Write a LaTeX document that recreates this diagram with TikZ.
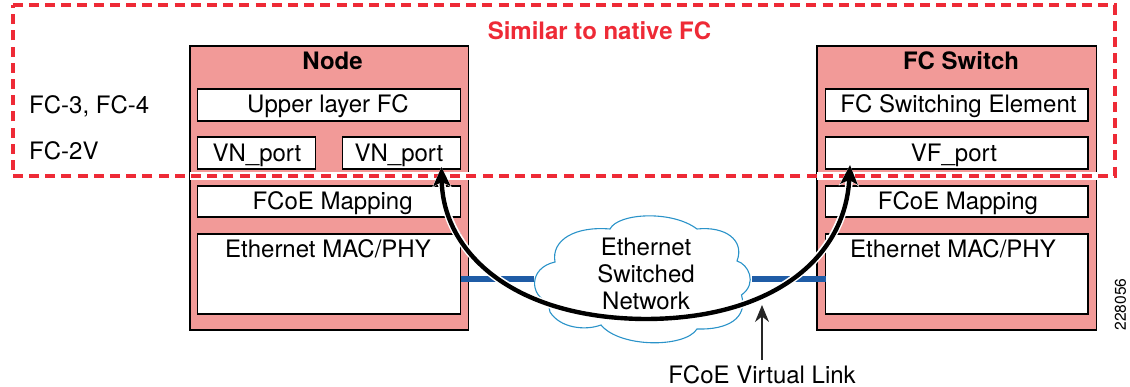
\documentclass[tikz,border=0pt]{standalone}
\usepackage{fontspec}
\setmainfont{TeX Gyre Heros}
\usetikzlibrary{arrows.meta}
\definecolor{panelpink}{HTML}{F29A98}
\definecolor{dashred}{HTML}{EE2A36}
\definecolor{linkblue}{HTML}{1F5CA6}
\definecolor{cloudblue}{HTML}{2A93C9}
\tikzset{
  panel/.style={draw=black,line width=1.2pt,fill=panelpink,inner sep=0pt,outer sep=0pt},
  slot/.style={draw=black,line width=1.2pt,fill=white,inner sep=0pt,outer sep=0pt},
  txt/.style={anchor=base,inner sep=0pt,font=\fontsize{24}{27}\selectfont},
  boldtxt/.style={txt,font=\fontsize{24}{27}\selectfont\bfseries},
  vlink/.style={line width=5.5pt,draw=linkblue},
  halo/.style={line width=7.5pt,draw=white},
  heavy/.style={line width=4.4pt,draw=black},
}
\begin{document}
\begin{tikzpicture}[x=1pt,y=-1pt]
\useasboundingbox (0,0) rectangle (1130,387);
% panels
\node[panel,minimum width=278.5pt,minimum height=284pt] (nodeP) at (329.25,188) {};
\node[panel,minimum width=279.5pt,minimum height=284pt] (switchP) at (956.75,188) {};
% node slots
\node[slot,minimum width=263pt,minimum height=32pt] (upperB) at (329,105) {};
\node[slot,minimum width=118.2pt,minimum height=32pt] (vn1B) at (256.6,153) {};
\node[slot,minimum width=118.2pt,minimum height=32pt] (vn2B) at (401.4,153) {};
\node[slot,minimum width=263pt,minimum height=31pt] (mapLB) at (329,201.5) {};
\node[slot,minimum width=263pt,minimum height=80pt] (ethLB) at (329,274) {};
% switch slots
\node[slot,minimum width=262.5pt,minimum height=32pt] (fcseB) at (956.75,105) {};
\node[slot,minimum width=262.5pt,minimum height=32pt] (vfB) at (956.75,153) {};
\node[slot,minimum width=262.5pt,minimum height=31pt] (mapRB) at (956.75,201.5) {};
\node[slot,minimum width=262.5pt,minimum height=80pt] (ethRB) at (956.75,274) {};
% cloud anchor coordinates and virtual link
\coordinate (cloudL) at (534,279);
\coordinate (cloudR) at (752,279);
\draw[vlink] (ethLB.east |- cloudL) -- (cloudL);
\draw[vlink] (cloudR) -- (ethRB.west |- cloudR);
% cloud
\draw[cloudblue,line width=1.1pt,fill=white]
  (555,262)
  .. controls (551,240) and (575,226) .. (610,229)
  .. controls (618,213) and (672,210) .. (697,229)
  .. controls (725,226) and (745,240) .. (737,261)
  .. controls (748,264) and (758,283) .. (741.5,295)
  .. controls (748,318) and (728,330) .. (697,329)
  .. controls (685,348) and (620,348) .. (601,325)
  .. controls (585,331) and (560,328) .. (550,312)
  -- (548,302)
  .. controls (530,296) and (528,268) .. (555,262)
  -- cycle;
% texts
\node[boldtxt] (nodeT) at (332.6,70) {Node};
\node[boldtxt] (switchT) at (961,70) {FC Switch};
\node[txt] (upperT) at (328,112.2) {Upper layer FC};
\node[txt] (vn1T) at (257,161.2) {VN\_port};
\node[txt] (vn2T) at (399,161.2) {VN\_port};
\node[txt] (mapLT) at (332.6,209.5) {FCoE Mapping};
\node[txt] (ethLT) at (328,257.2) {Ethernet MAC/PHY};
\node[txt] (fcseT) at (958.5,112.2) {FC Switching Element};
\node[txt] (vfT) at (954,161.2) {VF\_port};
\node[txt] (mapRT) at (958,209.5) {FCoE Mapping};
\node[txt] (ethRT) at (953,257.2) {Ethernet MAC/PHY};
\node[txt,anchor=base west] (fc34) at (29,114) {FC-3, FC-4};
\node[txt,anchor=base west] (fc2v) at (29,159.5) {FC-2V};
\node[boldtxt,text=dashred] (similar) at (599.5,40) {Similar to native FC};
\node[txt,align=center,anchor=center] (cloudT) at (646,274) {Ethernet\\Switched\\Network};
\node[txt,inner sep=5pt] (linkT) at (762,383) {FCoE Virtual Link};
\node[inner sep=0pt,rotate=90,font=\fontsize{15.6}{18}\selectfont] (idT) at (1120.5,304.5) {228056};
% dashed region
\coordinate (dA) at (12.6,5.4);
\coordinate (dB) at (1115,5.4);
\coordinate (dC) at (1115,176);
\coordinate (dD) at (12.6,176);
\draw[white,line width=8.5pt] (nodeP.west |- dD) -- (nodeP.east |- dD);
\draw[white,line width=8.5pt] (switchP.west |- dD) -- (switchP.east |- dD);
\draw[dashred,line width=3.8pt,dash pattern=on 10pt off 6.2pt] (dA) -- (dB) -- (dC) -- (dD) -- cycle;
% long arrow
\coordinate (tipL) at (441.5,167);
\coordinate (tipR) at (850,165);
\coordinate (low) at (645,319);
\draw[halo,{Stealth[length=21pt,width=20pt]}-{Stealth[length=21pt,width=20pt]}]
  (tipL) .. controls (443,250) and (510,318) .. (low)
  .. controls (770,319) and (845,260) .. (tipR);
\draw[heavy,{Stealth[length=19pt,width=17pt,inset=4pt]}-{Stealth[length=19pt,width=17pt,inset=4pt]}]
  (tipL) .. controls (443,250) and (510,318) .. (low)
  .. controls (770,319) and (845,260) .. (tipR);
% pointer
\coordinate (linkTip) at (762,305);
\draw[line width=1.2pt,draw=black!85,-{Stealth[length=17pt,width=14pt]}] (linkT.north) -- (linkTip);
\end{tikzpicture}
\end{document}
